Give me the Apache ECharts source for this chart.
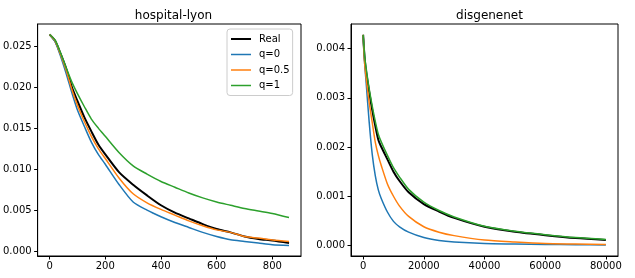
<!DOCTYPE html>
<html>
<head>
<meta charset="utf-8">
<script src="https://cdn.jsdelivr.net/npm/echarts@6.0.0/dist/echarts.min.js"></script>
<style>
html,body{margin:0;padding:0;background:#fff;}
#c{width:635px;height:278px;}
</style>
</head>
<body>
<div id="c"></div>
<script>
// ---- data ----
const titles = ['hospital-lyon', 'disgenenet'];
const seriesNames = ['Real', 'q=0', 'q=0.5', 'q=1'];

const lyonX = [0, 20, 40, 60, 80, 100, 125, 150, 175, 200, 250, 300, 350, 400, 450, 500, 550, 600, 650, 700, 750, 800, 860];
const lyonReal = [0.0264, 0.0256, 0.0240, 0.0222, 0.0200, 0.0183, 0.0163, 0.0146, 0.0130, 0.0118, 0.0096, 0.0081, 0.0068, 0.0056, 0.0047, 0.0040, 0.0033, 0.0027, 0.0023, 0.0018, 0.0015, 0.0013, 0.0010];
const lyonQ0 = [0.0264, 0.0255, 0.0237, 0.0216, 0.0193, 0.0172, 0.0152, 0.0133, 0.0118, 0.0106, 0.0081, 0.0060, 0.0050, 0.0042, 0.0035, 0.0029, 0.0023, 0.0018, 0.0014, 0.0012, 0.0010, 0.0008, 0.0007];
const lyonQ05 = [0.0264, 0.0256, 0.0239, 0.0220, 0.0197, 0.0178, 0.0158, 0.0140, 0.0125, 0.0113, 0.0089, 0.0070, 0.0059, 0.0051, 0.0044, 0.0037, 0.0031, 0.0026, 0.0023, 0.0018, 0.0016, 0.00138, 0.0012];
const lyonQ1 = [0.0264, 0.0257, 0.0241, 0.0223, 0.0206, 0.0192, 0.0176, 0.0161, 0.0150, 0.0140, 0.0120, 0.0104, 0.0094, 0.0085, 0.0078, 0.0071, 0.0065, 0.0060, 0.0056, 0.0052, 0.0049, 0.0046, 0.0041];

const disX = [0, 500, 1000, 2000, 3000, 4000, 5000, 6000, 8000, 10000, 12000, 15000, 20000, 25000, 30000, 40000, 50000, 60000, 70000, 80000];
const disReal = [0.00428, 0.0038, 0.00352, 0.00312, 0.00275, 0.00243, 0.00215, 0.00200, 0.00175, 0.00150, 0.00131, 0.00108, 0.00084, 0.00069, 0.00056, 0.00038, 0.00028, 0.00021, 0.00015, 0.00011];
const disQ0 = [0.00428, 0.0037, 0.0033, 0.0025, 0.00185, 0.00142, 0.00113, 0.00095, 0.00068, 0.00049, 0.00038, 0.00027, 0.00016, 0.0001, 0.00007, 0.00004, 0.00003, 0.00002, 0.000015, 0.00001];
const disQ05 = [0.00428, 0.0037, 0.0034, 0.0029, 0.0025, 0.0021, 0.00183, 0.00162, 0.00125, 0.00100, 0.0008, 0.00059, 0.00038, 0.00027, 0.0002, 0.00011, 0.00007, 0.00004, 0.00003, 0.00002];
const disQ1 = [0.00428, 0.00385, 0.0036, 0.00318, 0.00283, 0.00252, 0.00226, 0.0021, 0.00183, 0.00158, 0.00139, 0.00114, 0.00088, 0.00071, 0.00058, 0.00039, 0.00029, 0.00022, 0.00016, 0.00012];

const lyonXTicks = [0, 200, 400, 600, 800];
const lyonYTicks = [0, 0.005, 0.010, 0.015, 0.020, 0.025];
const disXTicks = [0, 20000, 40000, 60000, 80000];
const disYTicks = [0, 0.001, 0.002, 0.003, 0.004];

// ---- chart ----
const colors = ['#000000', '#1f77b4', '#ff7f0e', '#2ca02c'];
const widths = [2, 1.5, 1.5, 1.5];
const font = 'DejaVu Sans';

function zip(xs, ys) { return xs.map((x, i) => [x, ys[i]]); }

function xAxis(idx, min, max, ticks) {
  return {
    type: 'value', gridIndex: idx, min: min, max: max,
    axisLine: {show: true, onZero: false, lineStyle: {color: '#000', width: 1}},
    axisTick: {show: true, length: 3.5, lineStyle: {color: '#000', width: 1}, customValues: ticks},
    axisLabel: {show: true, margin: 5, color: '#000', fontFamily: font, fontSize: 10, customValues: ticks,
      formatter: v => String(Math.round(v))},
    splitLine: {show: false}
  };
}
function yAxis(idx, min, max, ticks) {
  return {
    type: 'value', gridIndex: idx, min: min, max: max,
    axisLine: {show: true, onZero: false, lineStyle: {color: '#000', width: 1}},
    axisTick: {show: true, length: 3.5, lineStyle: {color: '#000', width: 1}, customValues: ticks},
    axisLabel: {show: true, margin: 6, color: '#000', fontFamily: font, fontSize: 10, customValues: ticks,
      formatter: v => v.toFixed(3)},
    splitLine: {show: false}
  };
}

const lyonSets = [lyonReal, lyonQ0, lyonQ05, lyonQ1];
const disSets = [disReal, disQ0, disQ05, disQ1];
const series = [];
lyonSets.forEach((ys, i) => series.push({
  name: seriesNames[i], type: 'line', xAxisIndex: 0, yAxisIndex: 0,
  data: zip(lyonX, ys), symbol: 'none', smooth: 0.25,
  lineStyle: {color: colors[i], width: widths[i]}, itemStyle: {color: colors[i]}, z: 2 + i
}));
disSets.forEach((ys, i) => series.push({
  name: seriesNames[i], type: 'line', xAxisIndex: 1, yAxisIndex: 1,
  data: zip(disX, ys), symbol: 'none', smooth: 0.25,
  lineStyle: {color: colors[i], width: widths[i]}, itemStyle: {color: colors[i]}, z: 2 + i
}));

const legendData = seriesNames.map((n, i) => ({
  name: n,
  icon: 'path://M0,0 L40,0 L40,' + (widths[i] * 2) + ' L0,' + (widths[i] * 2) + ' Z'
}));

const chart = echarts.init(document.getElementById('c'), null, {renderer: 'canvas'});
chart.setOption({
  animation: false,
  backgroundColor: '#fff',
  title: [
    {text: titles[0], left: 168.5, top: 5, textAlign: 'center',
     textStyle: {fontFamily: font, fontSize: 12, fontWeight: 'normal', color: '#000'}},
    {text: titles[1], left: 484.5, top: 5, textAlign: 'center',
     textStyle: {fontFamily: font, fontSize: 12, fontWeight: 'normal', color: '#000'}}
  ],
  legend: {
    data: legendData, orient: 'vertical', left: 227, top: 29,
    itemWidth: 20, itemHeight: 10, itemGap: 5.5,
    padding: [5, 3, 5, 4],
    borderColor: '#cccccc', borderWidth: 1, borderRadius: 3,
    backgroundColor: 'rgba(255,255,255,0.8)',
    textStyle: {fontFamily: font, fontSize: 10, color: '#000', padding: [0, 0, 0, 3]},
    z: 10
  },
  grid: [
    {left: 36, top: 24, width: 265, height: 232, show: true, borderColor: '#000', borderWidth: 1, backgroundColor: 'transparent'},
    {left: 351, top: 24, width: 267, height: 232, show: true, borderColor: '#000', borderWidth: 1, backgroundColor: 'transparent'}
  ],
  xAxis: [xAxis(0, -43, 903, lyonXTicks), xAxis(1, -4000, 84000, disXTicks)],
  yAxis: [yAxis(0, -0.00058, 0.02768, lyonYTicks), yAxis(1, -0.000214, 0.0045, disYTicks)],
  series: series
});
</script>
</body>
</html>
